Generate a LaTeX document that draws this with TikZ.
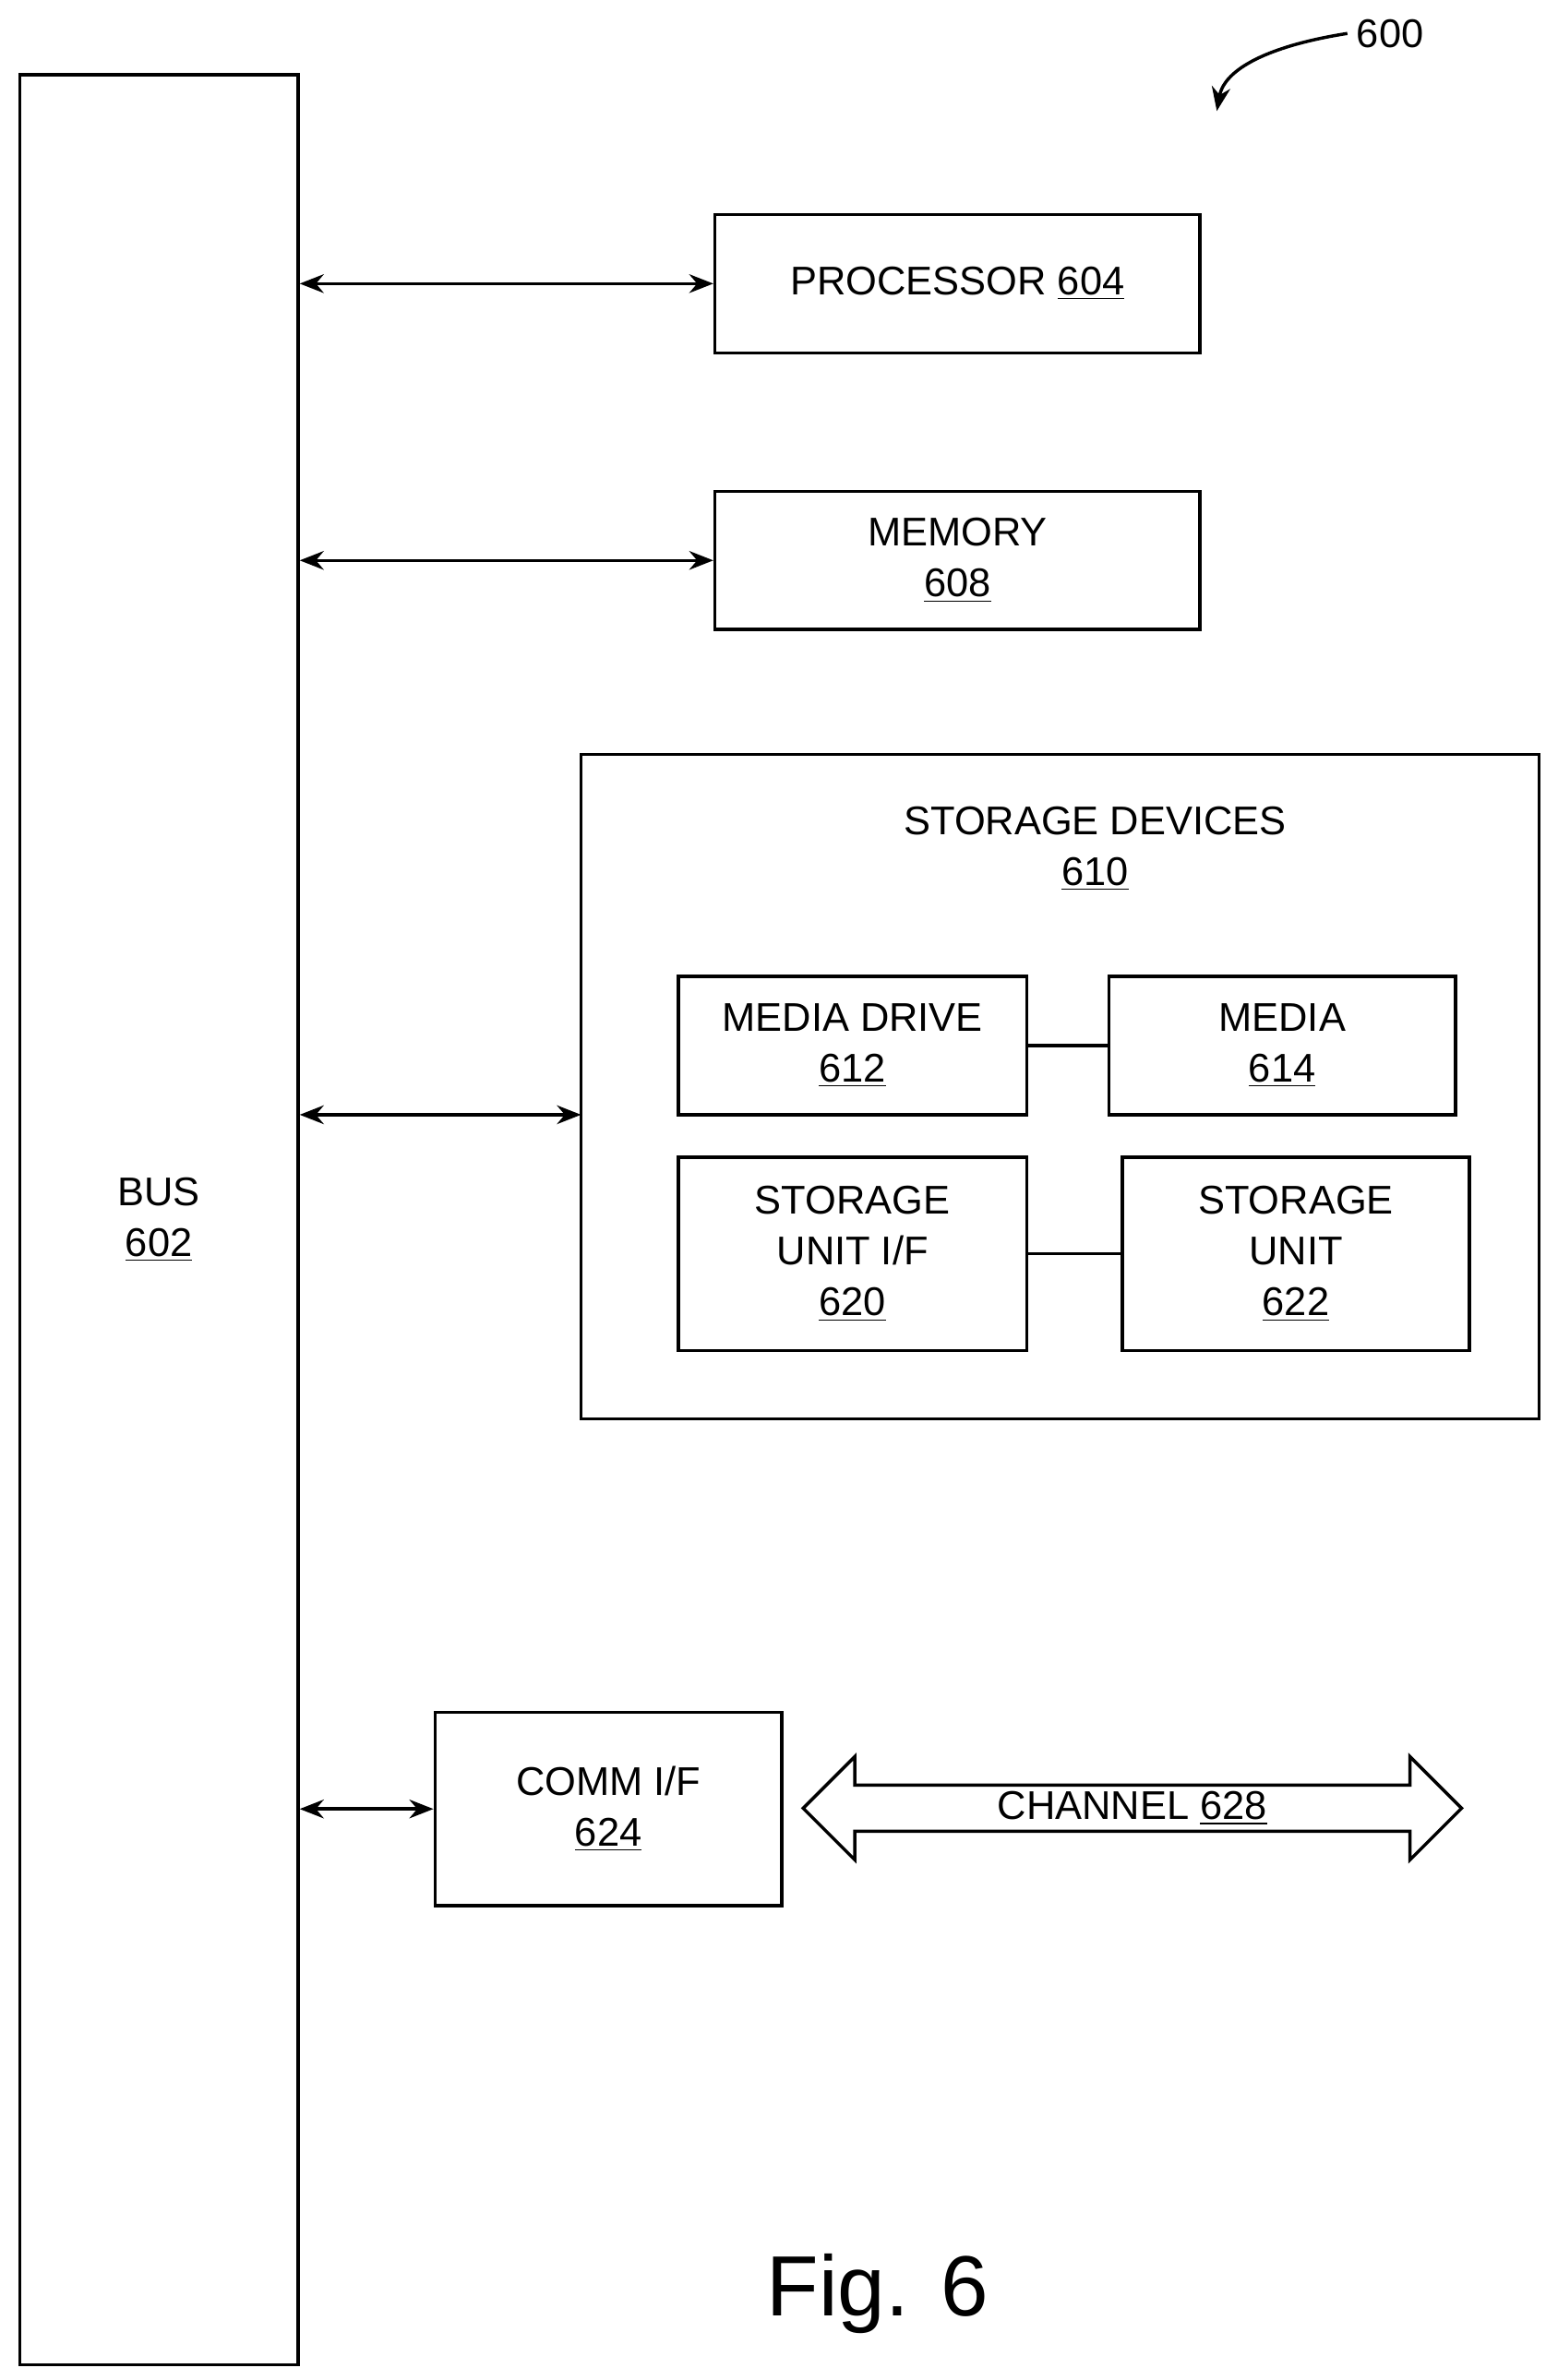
\documentclass[tikz,border=0pt]{standalone}
\usepackage{fontspec}
\setmainfont{Liberation Sans}
\usetikzlibrary{shapes.arrows,arrows.meta}
\begin{document}
\begin{tikzpicture}[x=0.02cm,y=-0.02cm]

    \tikzset{boxstyle/.style={draw,line width=1.2pt,align=center,inner sep=0pt,font=\fontsize{15}{19}\selectfont},
             linkstyle/.style={line width=1.2pt,{Stealth[length=9pt,width=7pt]}-{Stealth[length=9pt,width=7pt]}}}
    \useasboundingbox (0,0) rectangle (1024,1565);

    \node[boxstyle,minimum width=3.66cm,minimum height=30.12cm] (bus) at (104.5,802) {BUS\\\underline{602}};
    \node[boxstyle,minimum width=6.38cm,minimum height=1.82cm] (proc) at (629.5,186.5) {PROCESSOR \underline{604}};
    \node[boxstyle,minimum width=6.38cm,minimum height=1.82cm] (mem) at (629.5,368.5) {MEMORY\\\underline{608}};
    \node[boxstyle,minimum width=12.6cm,minimum height=8.74cm] (stor) at (697,714.5) {};
    \node[font=\fontsize{15}{19}\selectfont,align=center] (storlbl) at (720,558) {STORAGE DEVICES\\\underline{610}};
    \node[boxstyle,minimum width=4.58cm,minimum height=1.82cm] (drive) at (560.5,687.5) {MEDIA DRIVE\\\underline{612}};
    \node[boxstyle,minimum width=4.56cm,minimum height=1.82cm] (media) at (843,687.5) {MEDIA\\\underline{614}};
    \node[boxstyle,minimum width=4.58cm,minimum height=2.54cm] (suif) at (560.5,824.5) {STORAGE\\UNIT I/F\\\underline{620}};
    \node[boxstyle,minimum width=4.56cm,minimum height=2.54cm] (su) at (852,824.5) {STORAGE\\UNIT\\\underline{622}};
    \node[boxstyle,minimum width=4.56cm,minimum height=2.54cm] (comm) at (400,1189.5) {COMM I/F\\\underline{624}};
    \node[boxstyle,double arrow,minimum height=8.66cm,minimum width=1.36cm,
          double arrow head extend=0.3cm,inner sep=0pt] (chan) at (744.5,1189) {CHANNEL \underline{628}};

    \coordinate (storin) at (382,733);
    \draw[linkstyle] (bus.east |- proc) -- (proc);
    \draw[linkstyle] (bus.east |- mem) -- (mem);
    \draw[linkstyle] (bus.east |- storin) -- (storin);
    \draw[linkstyle] (bus.east |- comm) -- (comm);
    \draw[line width=1.2pt] (drive) -- (media);
    \draw[line width=1.2pt] (suif) -- (su);

    % reference numeral
    \node[font=\fontsize{15}{19}\selectfont] (ref) at (914,22) {600};
    \coordinate (refend) at (800,73);
    \draw[line width=1.2pt,-{Stealth[length=9pt,width=7pt]}] (ref.west) .. controls (835,30) and (805,45) .. (refend);

    \node[font=\fontsize{32}{38}\selectfont] (fig) at (577,1508) {Fig. 6};

\end{tikzpicture}
\end{document}
